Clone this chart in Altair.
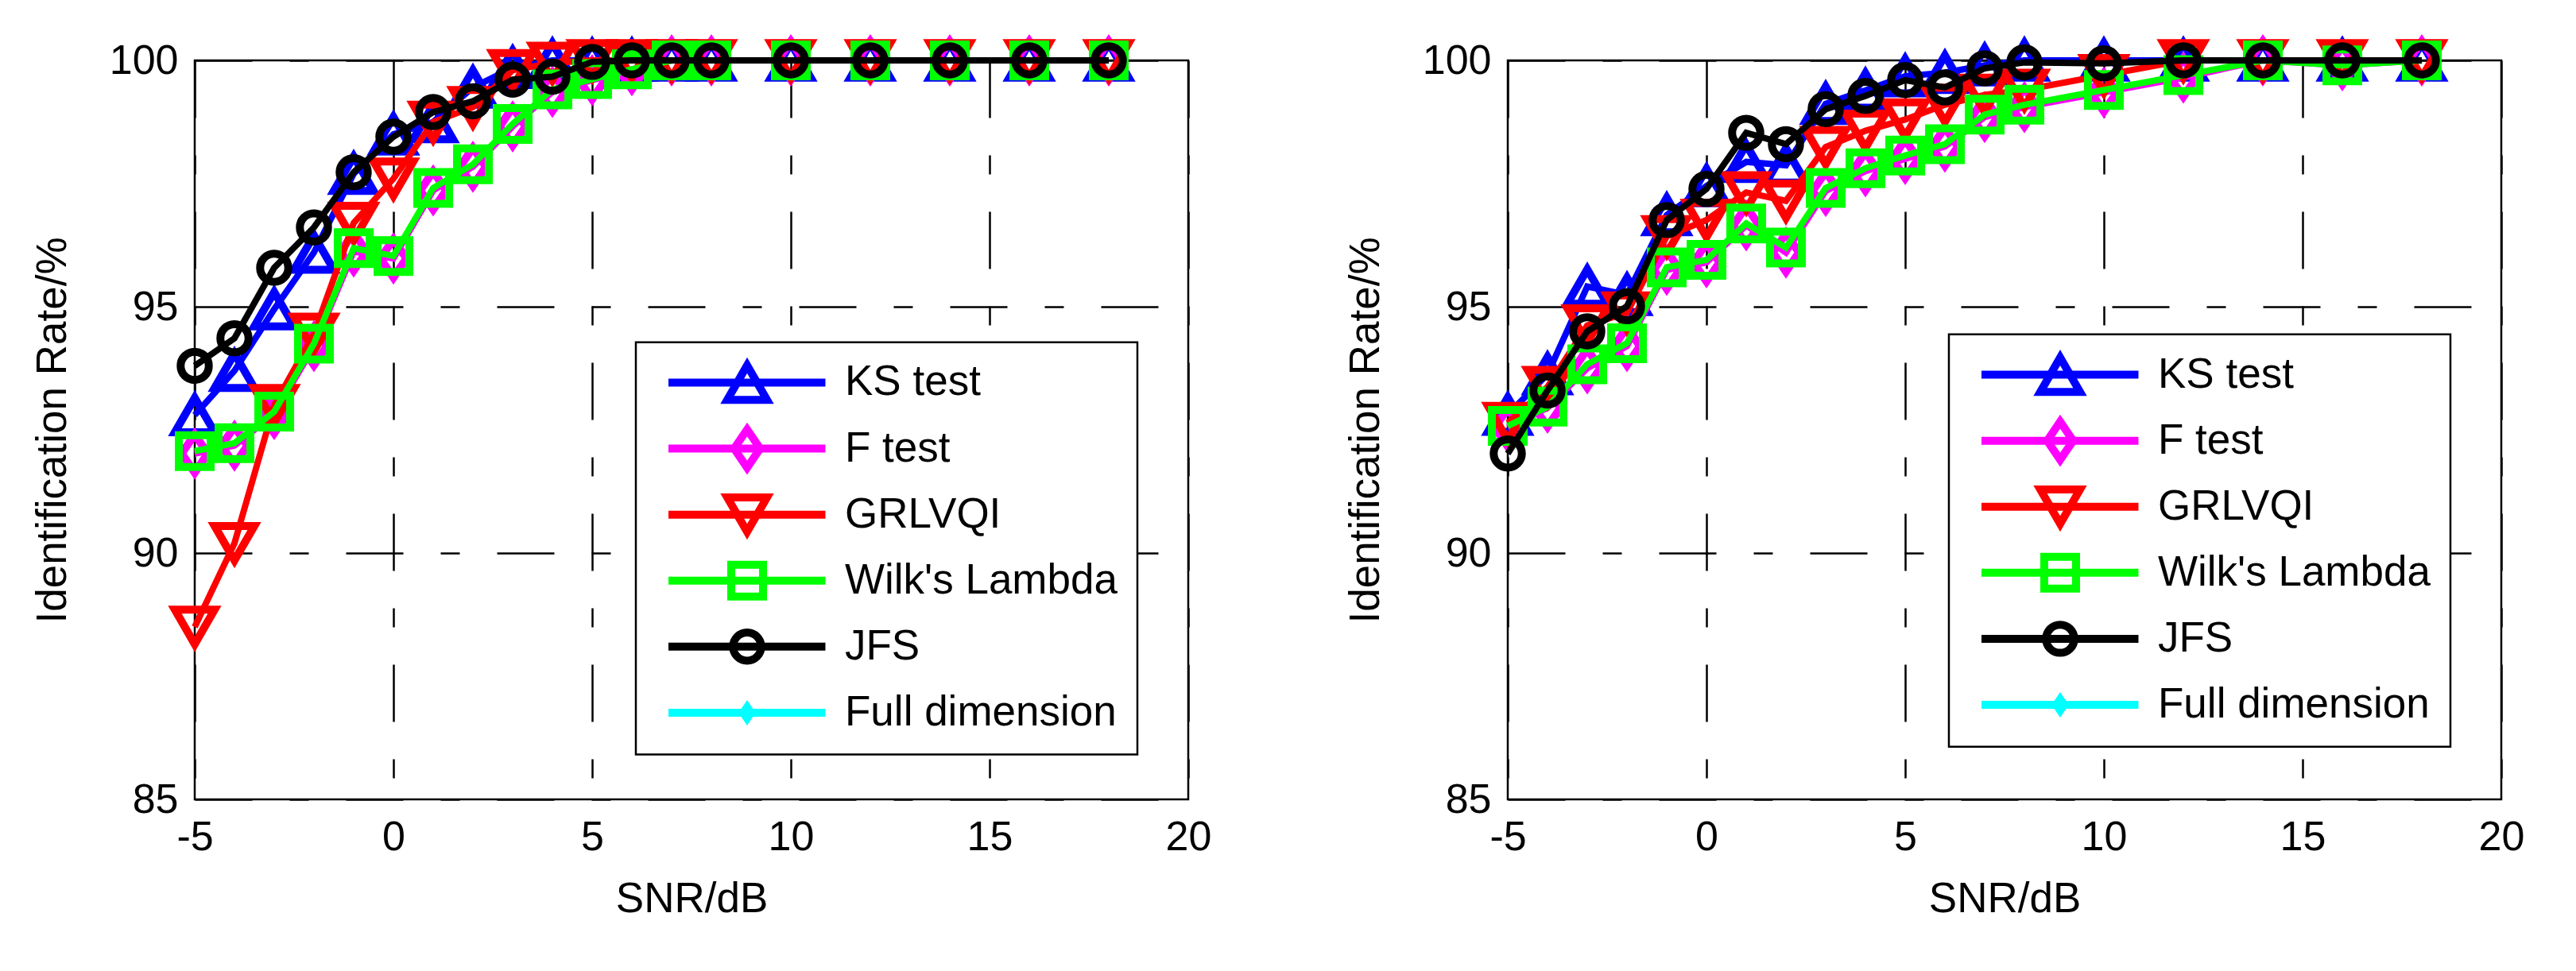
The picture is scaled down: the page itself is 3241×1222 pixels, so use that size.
import altair as alt
import pandas as pd

# SNR values shared by every curve
SNR = [-5, -4, -3, -2, -1, 0, 1, 2, 3, 4, 5, 6, 7, 8, 10, 12, 14, 16, 18]

SERIES = ["KS test", "F test", "GRLVQI", "Wilk's Lambda", "JFS", "Full dimension"]
COLORS = ["#0000ff", "#ff00ff", "#ff0000", "#00ff00", "#000000", "#00ffff"]

# left panel
ks_a = [92.8, 93.7, 94.95, 96.1, 97.7, 98.5, 98.75, 99.45, 99.85, 100, 100, 100, 100, 100, 100, 100, 100, 100, 100]
f_a = [92.02, 92.18, 92.82, 94.2, 96.12, 95.98, 97.36, 97.84, 98.66, 99.36, 99.6, 99.8, 100, 100, 100, 100, 100, 100, 100]
grl_a = [88.5, 90.2, 93.0, 94.45, 96.7, 97.6, 98.75, 99.05, 99.8, 99.95, 100, 100, 100, 100, 100, 100, 100, 100, 100]
wilk_a = [92.07, 92.23, 92.87, 94.25, 96.19, 96.03, 97.41, 97.89, 98.71, 99.41, 99.62, 99.82, 100, 100, 100, 100, 100, 100, 100]
jfs_a = [93.8, 94.36, 95.79, 96.61, 97.73, 98.45, 98.95, 99.17, 99.61, 99.67, 99.97, 100, 100, 100, 100, 100, 100, 100, 100]

# right panel
ks_b = [92.81, 93.63, 95.41, 95.24, 96.86, 97.45, 97.94, 97.87, 99.12, 99.39, 99.68, 99.75, 99.9, 100, 100, 100, 100, 100, 100]
f_b = [92.55, 92.95, 93.75, 94.2, 95.75, 95.9, 96.65, 96.1, 97.35, 97.75, 98.0, 98.25, 98.85, 99.05, 99.35, 99.65, 100, 99.9, 100]
grl_b = [92.64, 93.37, 94.62, 94.88, 96.43, 96.76, 97.32, 97.15, 98.24, 98.57, 98.8, 99.1, 99.3, 99.4, 99.7, 100, 100, 100, 100]
wilk_b = [92.58, 92.97, 93.83, 94.26, 95.8, 95.95, 96.69, 96.2, 97.41, 97.81, 98.07, 98.3, 98.9, 99.1, 99.4, 99.7, 100, 99.9, 100]
jfs_b = [92.02, 93.3, 94.5, 95.01, 96.76, 97.39, 98.53, 98.3, 99.01, 99.28, 99.6, 99.45, 99.84, 99.96, 99.94, 100, 100, 100, 100]

X_TICKS = [-5, 0, 5, 10, 15, 20]
Y_TICKS = [85, 90, 95, 100]

FONT = "Liberation Sans"
DIAMOND = "M0,-1L0.68,0L0,1L-0.68,0Z"
# marker style per series: shape, size, filled
MARKERS = [
    ("triangle-up", 2500, False),
    (DIAMOND, 2304, False),
    ("triangle-down", 2500, False),
    ("square", 1600, False),
    ("circle", 1257, False),
    (DIAMOND, 1024, True),
]

X_SCALE = alt.Scale(domain=[-5, 20], nice=False, zero=False)
Y_SCALE = alt.Scale(domain=[85, 100], nice=False, zero=False)
X_AXIS = alt.Axis(values=X_TICKS, labelExpr="'' + datum.value", labelFlush=False)
Y_AXIS = alt.Axis(values=Y_TICKS, labelExpr="'' + datum.value", labelFlush=False)


def xe(field):
    return alt.X(field, scale=X_SCALE, axis=X_AXIS, title="SNR/dB")


def ye(field):
    return alt.Y(field, scale=Y_SCALE, axis=Y_AXIS, title="Identification Rate/%")


def panel(curves, legend_top):
    layers = []
    for i, values in enumerate(curves):
        df = pd.DataFrame({"snr": SNR, "rate": values})
        shape, size, filled = MARKERS[i]
        base = alt.Chart(df).encode(x=xe("snr:Q"), y=ye("rate:Q"))
        layers.append(base.mark_line(color=COLORS[i], strokeWidth=8))
        layers.append(base.mark_point(shape=shape, size=size, filled=filled, color=COLORS[i],
                                      strokeWidth=10, opacity=1))

    # legend, placed in data units
    step = 1.34
    box = pd.DataFrame({"x1": [6.1], "x2": [18.72], "y1": [legend_top + 0.82], "y2": [legend_top - 7.55]})
    layers.append(alt.Chart(box).mark_rect(fill="white", stroke="black", strokeWidth=2.5).encode(
        x=xe("x1:Q"), x2="x2:Q", y=ye("y1:Q"), y2="y2:Q"))
    for i, name in enumerate(SERIES):
        row = pd.DataFrame({"lx1": [6.92], "lx2": [10.87], "mx": [8.9], "tx": [11.36],
                            "ly": [legend_top - i * step], "name": [name]})
        shape, size, filled = MARKERS[i]
        rb = alt.Chart(row)
        layers.append(rb.mark_rule(color=COLORS[i], strokeWidth=10).encode(
            x=xe("lx1:Q"), x2="lx2:Q", y=ye("ly:Q")))
        layers.append(rb.mark_point(shape=shape, size=size, filled=filled, color=COLORS[i],
                                    strokeWidth=10 if not filled else 4, opacity=1).encode(
            x=xe("mx:Q"), y=ye("ly:Q")))
        layers.append(rb.mark_text(align="left", baseline="middle", font=FONT, fontSize=53,
                                   color="black").encode(
            x=xe("tx:Q"), y=ye("ly:Q"), text="name:N"))

    return alt.layer(*layers).properties(width=1250, height=930)


left = panel([ks_a, f_a, grl_a, wilk_a, jfs_a], 93.46)
right = panel([ks_b, f_b, grl_b, wilk_b, jfs_b], 93.62)

chart = alt.hconcat(left, right, spacing=164).properties(
    padding={"left": 30, "top": 22, "right": 10, "bottom": 10},
    background="white",
).configure_view(
    stroke="black", strokeWidth=2.5
).configure_axis(
    labelFont=FONT, labelFontSize=52, labelColor="black",
    titleFont=FONT, titleFontSize=53, titleFontWeight="normal", titleColor="black",
    grid=True, gridColor="black", gridDash=[72, 47, 24, 47], gridWidth=2.5, gridOpacity=1,
    domain=False, ticks=False, tickSize=0,
).configure_axisX(
    labelPadding=22, titlePadding=26
).configure_axisY(
    labelPadding=21, titlePadding=44
)

chart.save("out.html", embed_options={"renderer": "svg", "actions": False})
